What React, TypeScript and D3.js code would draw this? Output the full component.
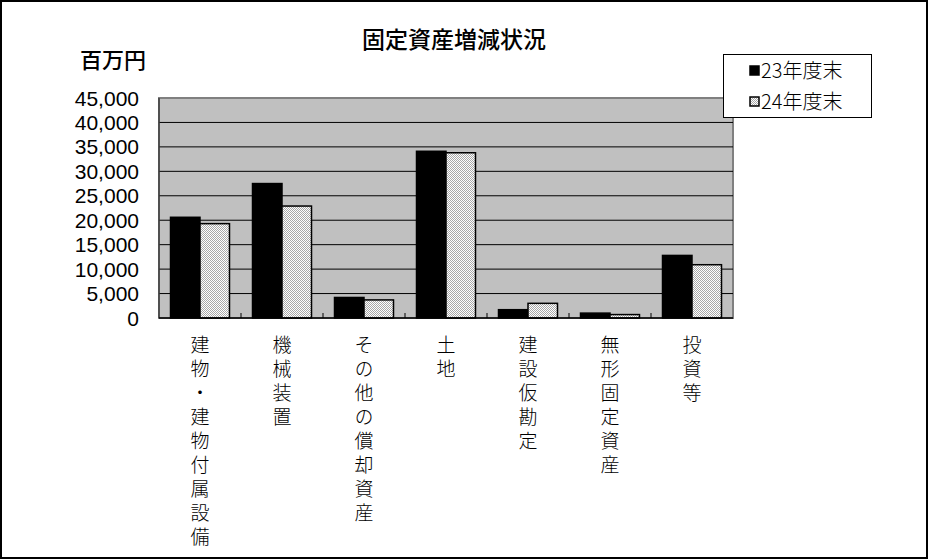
import React, { useEffect } from 'react';
import * as d3 from 'd3';

const categories = [
  '建物・建物付属設備',
  '機械装置',
  'その他の償却資産',
  '土地',
  '建設仮勘定',
  '無形固定資産',
  '投資等',
];
const seriesNames = ['23年度末', '24年度末'];
const values23 = [20600, 27500, 4200, 34100, 1700, 1000, 12800];
const values24 = [19300, 22900, 3700, 33800, 3000, 700, 10900];
const yTicks = [0, 5000, 10000, 15000, 20000, 25000, 30000, 35000, 40000, 45000];

const W = 928;
const H = 559;
const plot = { left: 159, right: 733, top: 98, bottom: 318 };
const jpFont = '"Noto Sans CJK JP", "Noto Sans", sans-serif';
const numFont = '"Liberation Sans", Arial, sans-serif';

export default function App() {
  useEffect(() => {
    document.body.style.margin = '0';
  }, []);

  const x = d3.scaleBand<string>()
    .domain(categories)
    .range([plot.left, plot.right])
    .paddingInner(0)
    .paddingOuter(0);

  const xs = d3.scaleBand<string>()
    .domain(seriesNames)
    .range([0, x.bandwidth()])
    .paddingInner(0)
    .paddingOuter(0.39);

  const y = d3.scaleLinear()
    .domain([0, 45000])
    .range([plot.bottom, plot.top]);

  const fmt = d3.format(',');
  const fills = ['#000000', 'url(#dots)'];
  const series = [values23, values24];

  return (
    <svg width={W} height={H} style={{ display: 'block', background: '#fff' }}>
      <defs>
        <pattern id="dots" width="2" height="2" patternUnits="userSpaceOnUse">
          <rect width="2" height="2" fill="#ffffff" />
          <rect width="1" height="1" fill="#a8a8a8" />
          <rect x="1" y="1" width="1" height="1" fill="#a8a8a8" />
        </pattern>
      </defs>
      <rect x={1} y={1} width={W - 2} height={H - 2} fill="#fff" stroke="#000" strokeWidth={2} />

      {/* title */}
      <text x={454} y={48} textAnchor="middle" fontFamily={jpFont} fontSize={23} fontWeight={500} fill="#000">
        固定資産増減状況
      </text>
      <text x={80} y={68} fontFamily={jpFont} fontSize={22} fontWeight={500} fill="#000">
        百万円
      </text>

      {/* plot area */}
      <rect x={plot.left} y={plot.top} width={plot.right - plot.left} height={plot.bottom - plot.top}
        fill="#c0c0c0" stroke="#808080" strokeWidth={2} />
      {yTicks.slice(1, -1).map(t => (
        <line key={t} x1={plot.left} x2={plot.right} y1={y(t)} y2={y(t)} stroke="#000" strokeWidth={1} />
      ))}
      <line x1={plot.left} x2={plot.left} y1={plot.top} y2={plot.bottom} stroke="#404040" strokeWidth={1.5} />

      {/* bars */}
      {series.map((vals, si) => (
        <g key={seriesNames[si]}>
          {vals.map((v, i) => (
            <rect key={i}
              x={x(categories[i])! + xs(seriesNames[si])!}
              y={y(v)}
              width={xs.bandwidth()}
              height={plot.bottom - y(v)}
              fill={fills[si]}
              stroke="#000"
              strokeWidth={1.5} />
          ))}
        </g>
      ))}

      {/* x axis */}
      <line x1={plot.left} x2={plot.right} y1={plot.bottom} y2={plot.bottom} stroke="#000" strokeWidth={1.5} />
      {categories.slice(1).map(c => (
        <line key={c} x1={x(c)!} x2={x(c)!} y1={plot.bottom} y2={plot.bottom - 5} stroke="#000" strokeWidth={1} />
      ))}

      {/* y tick labels */}
      {yTicks.map(t => (
        <text key={t} x={139} y={y(t)} dy="0.36em" textAnchor="end" fontFamily={numFont} fontSize={21} fill="#000">
          {fmt(t)}
        </text>
      ))}

      {/* category labels, vertical */}
      {categories.map(c => (
        <text key={c} x={x(c)! + x.bandwidth() / 2} y={335}
          style={{ writingMode: 'vertical-rl', textOrientation: 'upright', letterSpacing: '5px' }}
          fontFamily={jpFont} fontSize={19} fontWeight={300} fill="#000">
          {c}
        </text>
      ))}

      {/* legend */}
      <rect x={723.5} y={54.5} width={148} height={63} fill="#fff" stroke="#000" strokeWidth={1} />
      {seriesNames.map((s, i) => (
        <g key={s}>
          <rect x={750} y={66 + i * 31} width={9} height={9} fill={fills[i]} stroke="#000" strokeWidth={1.5} />
          <text x={761} y={71 + i * 31} dy="0.36em" fontFamily={jpFont} fontSize={20} fontWeight={300} fill="#000">
            {s}
          </text>
        </g>
      ))}
    </svg>
  );
}
